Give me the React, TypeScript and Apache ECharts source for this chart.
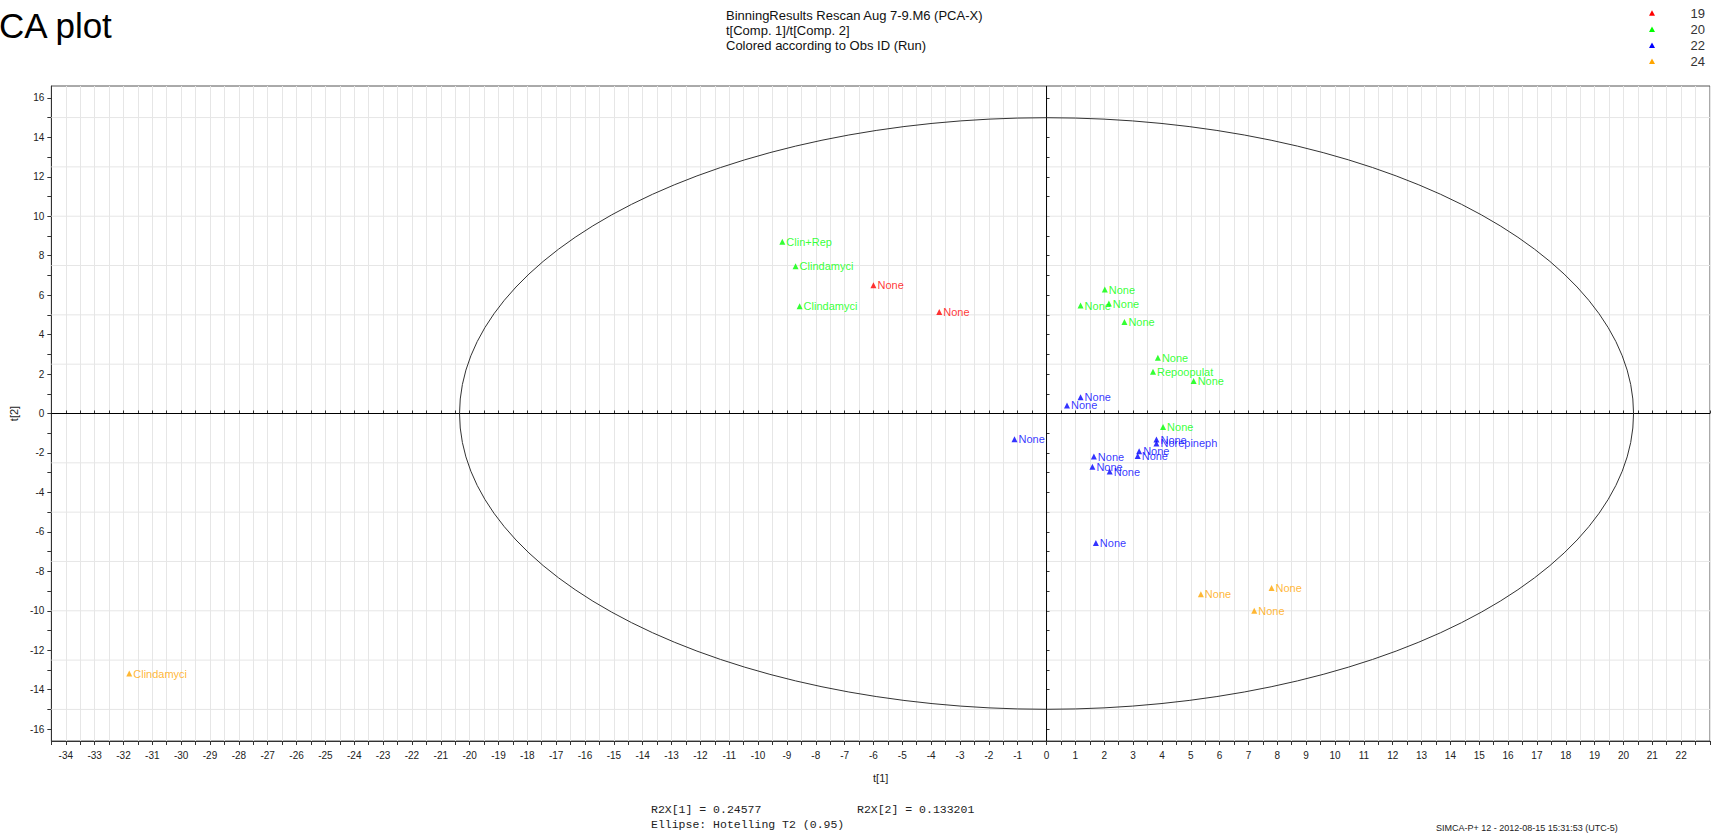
import React, { useEffect, useRef } from "react";
import * as echarts from "echarts";

// ---------- data ----------
const runNames = ["19", "20", "22", "24"];
const runColors = ["#ff0000", "#00ff00", "#0000ff", "#ffa500"];

const run19X = [-6.0, -3.72];
const run19Y = [6.5, 5.15];
const run19Labels = ["None", "None"];

const run20X = [-9.16, -8.7, -8.56, 2.02, 1.18, 2.16, 2.7, 3.86, 3.69, 5.1, 4.04];
const run20Y = [8.7, 7.47, 5.44, 6.28, 5.47, 5.57, 4.64, 2.82, 2.11, 1.65, -0.68];
const run20Labels = ["Clin+Rep", "Clindamyci", "Clindamyci", "None", "None", "None", "None", "None", "Repoopulat", "None", "None"];

const run22X = [1.18, 0.71, -1.11, 3.81, 3.81, 3.21, 3.16, 1.64, 1.59, 2.19, 1.71];
const run22Y = [0.82, 0.41, -1.3, -1.32, -1.52, -1.91, -2.15, -2.18, -2.7, -2.94, -6.57];
const run22Labels = ["None", "None", "None", "None", "Norepineph", "None", "None", "None", "None", "None", "None"];

const run24X = [5.35, 7.8, 7.2, -31.8];
const run24Y = [-9.16, -8.85, -10.0, -13.18];
const run24Labels = ["None", "None", "None", "Clindamyci"];

const xLabelValues = [-34, -33, -32, -31, -30, -29, -28, -27, -26, -25, -24, -23, -22, -21, -20, -19, -18, -17, -16, -15, -14, -13, -12, -11, -10, -9, -8, -7, -6, -5, -4, -3, -2, -1, 0, 1, 2, 3, 4, 5, 6, 7, 8, 9, 10, 11, 12, 13, 14, 15, 16, 17, 18, 19, 20, 21, 22];
const yLabelValues = [-16, -14, -12, -10, -8, -6, -4, -2, 0, 2, 4, 6, 8, 10, 12, 14, 16];
const yTickValues = [-16, -15, -14, -13, -12, -11, -10, -9, -8, -7, -6, -5, -4, -3, -2, -1, 0, 1, 2, 3, 4, 5, 6, 7, 8, 9, 10, 11, 12, 13, 14, 15, 16];
const yGridValues = [-15, -12.5, -10, -7.5, -5, -2.5, 2.5, 5, 7.5, 10, 12.5, 15];

// Hotelling T2 (0.95) ellipse semi-axes
const ellipseRx = 20.35;
const ellipseRy = 15.0;

const headerLines = ["BinningResults Rescan Aug 7-9.M6 (PCA-X)", "t[Comp. 1]/t[Comp. 2]", "Colored according to Obs ID (Run)"];

const runX = [run19X, run20X, run22X, run24X];
const runY = [run19Y, run20Y, run22Y, run24Y];
const runLabels = [run19Labels, run20Labels, run22Labels, run24Labels];

const SANS = '"Liberation Sans", Arial, Helvetica, sans-serif';
const MONO = '"Liberation Mono", "Courier New", monospace';

export default function App() {
  const ref = useRef<HTMLDivElement>(null);

  useEffect(() => {
    if (!ref.current) return;
    const chart = echarts.init(ref.current, null, { renderer: "svg" });

    const scatterSeries = runNames.map((name, i) => ({
      type: "scatter",
      name,
      xAxisIndex: 0,
      yAxisIndex: 0,
      symbol: "triangle",
      symbolSize: 6,
      z: 5,
      itemStyle: { color: runColors[i] },
      label: {
        show: true,
        position: "right",
        distance: 1,
        formatter: (p: any) => p.data[2],
        color: runColors[i],
        fontSize: 11,
        fontFamily: SANS,
      },
      labelLayout: { hideOverlap: false },
      data: runX[i].map((x, j) => [x, runY[i][j], runLabels[i][j]]),
    }));

    const option: any = {
      animation: false,
      backgroundColor: "#ffffff",
      grid: {
        left: 51,
        top: 86,
        width: 1659,
        height: 655,
        show: true,
        borderColor: "#555555",
        borderWidth: 1,
        backgroundColor: "transparent",
      },
      xAxis: [
        {
          type: "value",
          min: -34.5,
          max: 23,
          interval: 0.5,
          name: "t[1]",
          nameLocation: "middle",
          nameGap: 31,
          nameTextStyle: { fontSize: 11, fontFamily: SANS, color: "#222" },
          axisLine: { show: true, onZero: false, lineStyle: { color: "#333", width: 1 } },
          axisTick: { show: true, length: 4, lineStyle: { color: "#333" } },
          axisLabel: {
            customValues: xLabelValues,
            fontSize: 10,
            fontFamily: SANS,
            color: "#222",
            margin: 9,
          },
          splitLine: { show: true, lineStyle: { color: "#e6e6e6", width: 1 } },
        },
        {
          type: "value",
          min: -34.5,
          max: 23,
          interval: 0.5,
          position: "bottom",
          axisLine: { show: false },
          axisTick: { show: true, inside: true, length: 3, lineStyle: { color: "#333" } },
          axisLabel: { show: false },
          splitLine: { show: false },
        },
      ],
      yAxis: [
        {
          type: "value",
          min: -16.6,
          max: 16.6,
          name: "t[2]",
          nameLocation: "middle",
          nameGap: 28,
          nameTextStyle: { fontSize: 11, fontFamily: SANS, color: "#222" },
          axisLine: { show: true, onZero: false, lineStyle: { color: "#333", width: 1 } },
          axisTick: { show: true, length: 4, customValues: yTickValues, lineStyle: { color: "#333" } },
          axisLabel: {
            customValues: yLabelValues,
            fontSize: 10,
            fontFamily: SANS,
            color: "#222",
            margin: 7,
          },
          splitLine: { show: false },
        },
        {
          type: "value",
          min: -16.6,
          max: 16.6,
          position: "left",
          axisLine: { show: false },
          axisTick: { show: true, inside: true, length: 3, customValues: yTickValues, lineStyle: { color: "#333" } },
          axisLabel: { show: false },
          splitLine: { show: false },
        },
      ],
      series: [
        {
          type: "custom",
          name: "hgrid",
          xAxisIndex: 0,
          yAxisIndex: 0,
          silent: true,
          z: 1,
          data: yGridValues.map((v) => [0, v]),
          renderItem: (params: any, api: any) => {
            const cs = params.coordSys;
            const y = api.coord([0, api.value(1)])[1];
            return {
              type: "line",
              shape: { x1: cs.x, y1: y, x2: cs.x + cs.width, y2: y },
              style: { stroke: "#e6e6e6", lineWidth: 1 },
            };
          },
        },
        {
          type: "custom",
          name: "zeroLines",
          xAxisIndex: 0,
          yAxisIndex: 0,
          silent: true,
          z: 2,
          data: [[0, 0]],
          renderItem: (params: any, api: any) => {
            const cs = params.coordSys;
            const c = api.coord([api.value(0), api.value(1)]);
            return {
              type: "group",
              children: [
                { type: "line", shape: { x1: cs.x, y1: c[1], x2: cs.x + cs.width, y2: c[1] }, style: { stroke: "#000", lineWidth: 1 } },
                { type: "line", shape: { x1: c[0], y1: cs.y, x2: c[0], y2: cs.y + cs.height }, style: { stroke: "#000", lineWidth: 1 } },
              ],
            };
          },
        },
        {
          type: "custom",
          name: "ellipse",
          xAxisIndex: 0,
          yAxisIndex: 0,
          silent: true,
          z: 3,
          data: [[0, 0, ellipseRx, ellipseRy]],
          renderItem: (params: any, api: any) => {
            const c = api.coord([api.value(0), api.value(1)]);
            const s = api.size([api.value(2), api.value(3)]);
            const rx = s[0];
            const ry = s[1];
            const d = `M ${c[0] - rx} ${c[1]} A ${rx} ${ry} 0 1 0 ${c[0] + rx} ${c[1]} A ${rx} ${ry} 0 1 0 ${c[0] - rx} ${c[1]} Z`;
            return {
              type: "path",
              shape: { pathData: d },
              style: { fill: "none", stroke: "#333", lineWidth: 1 },
            };
          },
        },
        ...scatterSeries,
      ],
      graphic: [
        {
          type: "text",
          x: -1,
          y: 25,
          style: { text: "CA plot", font: `35px ${SANS}`, fill: "#000", verticalAlign: "middle", align: "left" },
        },
        ...headerLines.map((t, i) => ({
          type: "text",
          x: 726,
          y: 15 + i * 15,
          style: { text: t, font: `13px ${SANS}`, fill: "#111", verticalAlign: "middle", align: "left" },
        })),
        ...runNames.map((n, i) => ({
          type: "group",
          x: 0,
          y: 13.3 + i * 16.1,
          children: [
            {
              type: "polygon",
              shape: { points: [[1652, -3], [1655, 2.5], [1649, 2.5]] },
              style: { fill: runColors[i] },
            },
            {
              type: "text",
              x: 1705,
              y: 0,
              style: { text: n, font: `13px ${SANS}`, fill: "#333", align: "right", verticalAlign: "middle" },
            },
          ],
        })),
        {
          type: "text",
          x: 651,
          y: 809,
          style: { text: "R2X[1] = 0.24577", font: `11.5px ${MONO}`, fill: "#222", verticalAlign: "middle", align: "left" },
        },
        {
          type: "text",
          x: 857,
          y: 809,
          style: { text: "R2X[2] = 0.133201", font: `11.5px ${MONO}`, fill: "#222", verticalAlign: "middle", align: "left" },
        },
        {
          type: "text",
          x: 651,
          y: 824,
          style: { text: "Ellipse: Hotelling T2 (0.95)", font: `11.5px ${MONO}`, fill: "#222", verticalAlign: "middle", align: "left" },
        },
        {
          type: "text",
          x: 1436,
          y: 828,
          style: { text: "SIMCA-P+ 12 - 2012-08-15 15:31:53 (UTC-5)", font: `9px ${SANS}`, fill: "#222", verticalAlign: "middle", align: "left" },
        },
      ],
    };

    chart.setOption(option);
    return () => chart.dispose();
  }, []);

  return (
    <div
      ref={ref}
      style={{ position: "fixed", left: 0, top: 0, width: 1715, height: 838, background: "#fff" }}
    />
  );
}
